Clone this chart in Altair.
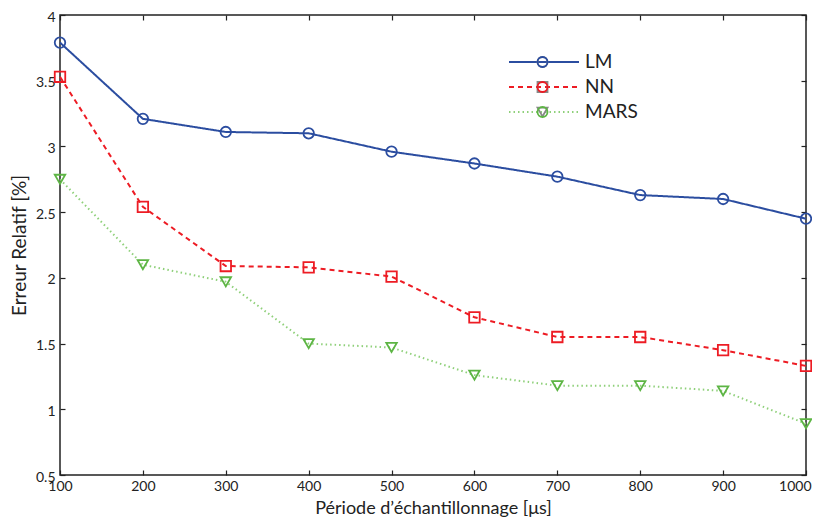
import altair as alt
import pandas as pd

periods = [100, 200, 300, 400, 500, 600, 700, 800, 900, 1000]
lm = [3.79, 3.21, 3.11, 3.10, 2.96, 2.87, 2.77, 2.63, 2.60, 2.45]
nn = [3.53, 2.54, 2.09, 2.08, 2.01, 1.70, 1.55, 1.55, 1.45, 1.33]
mars = [2.75, 2.10, 1.97, 1.50, 1.47, 1.26, 1.18, 1.18, 1.14, 0.89]
series_names = ["LM", "NN", "MARS"]
x_ticks = [100, 200, 300, 400, 500, 600, 700, 800, 900, 1000]
y_ticks = [0.5, 1, 1.5, 2, 2.5, 3, 3.5, 4]

line_colors = ["#2B4DA0", "#ED1C24", "#8FD07A"]
marker_colors = ["#2B4DA0", "#ED1C24", "#5DB544"]
dashes = [[1, 0], [5, 4], [1.5, 3]]
shapes = ["circle", "square", "triangle-down"]

rows = []
for name, vals in zip(series_names, [lm, nn, mars]):
    for p, v in zip(periods, vals):
        rows.append({"periode": p, "erreur": v, "serie": name, "serie_m": name})
df = pd.DataFrame(rows)

W, H = 746, 460
FONT = "Lato"
TXT = "#222222"

xscale = alt.Scale(domain=[100, 1000], nice=False, zero=False)
yscale = alt.Scale(domain=[0.5, 4], nice=False, zero=False)

tick_style = dict(grid=False, domain=False, labels=False, title=None,
                  tickSize=5, tickColor=TXT, tickWidth=1.2)

base = alt.Chart(df)

line_legend = alt.Legend(orient="none", legendX=448, legendY=37, title=None,
                         symbolType="stroke", symbolSize=4900,
                         symbolStrokeWidth=2, clipHeight=20, rowPadding=5,
                         padding=0, labelFont=FONT, labelFontSize=19,
                         labelColor=TXT, labelOffset=5)

last_test = "datum.value == 1000"

lines = base.mark_line(strokeWidth=2).encode(
    x=alt.X("periode:Q", scale=xscale,
            axis=alt.Axis(orient="bottom", values=x_ticks, tickSize=0, grid=False,
                          domain=False, labelPadding=4, labelFontSize=14,
                          labelColor=TXT, labelFont=FONT, format="d", labelFlush=False,
                          labelAlign={"condition": {"test": last_test, "value": "right"},
                                      "value": "center"},
                          labelOffset={"condition": {"test": last_test, "value": 5},
                                       "value": 0},
                          title="Période d’échantillonnage [μs]", titleFont=FONT,
                          titleFontSize=18, titleFontWeight="normal", titleColor=TXT,
                          titlePadding=6)),
    y=alt.Y("erreur:Q", scale=yscale,
            axis=alt.Axis(orient="left", values=y_ticks, tickSize=0, grid=False,
                          domain=False, labelPadding=5, labelFontSize=14, labelOffset=2,
                          labelColor=TXT, labelFont=FONT, format="~g", labelFlush=False,
                          title="Erreur Relatif [%]", titleFont=FONT,
                          titleFontSize=19, titleFontWeight="normal", titleColor=TXT,
                          titlePadding=6)),
    color=alt.Color("serie:N", scale=alt.Scale(domain=series_names, range=line_colors),
                    legend=line_legend),
    strokeDash=alt.StrokeDash("serie:N", scale=alt.Scale(domain=series_names, range=dashes),
                              legend=line_legend),
)

pt_legend = alt.Legend(orient="none", legendX=473, legendY=37, title=None,
                       clipHeight=20, rowPadding=5, padding=0, labelFont=FONT,
                       labelFontSize=19, labelExpr="''", symbolStrokeWidth=1.8)

points = base.mark_point(filled=False, size=110, strokeWidth=1.8, opacity=1).encode(
    x=alt.X("periode:Q", scale=xscale,
            axis=alt.Axis(orient="top", offset=-H, values=x_ticks, **tick_style)),
    y=alt.Y("erreur:Q", scale=yscale,
            axis=alt.Axis(orient="right", offset=-W, values=y_ticks, **tick_style)),
    stroke=alt.Stroke("serie_m:N", sort=series_names,
                      scale=alt.Scale(range=marker_colors), legend=pt_legend),
    shape=alt.Shape("serie_m:N", sort=series_names,
                    scale=alt.Scale(range=shapes), legend=pt_legend),
)

ghost = base.mark_point(opacity=0).encode(
    x=alt.X("periode:Q", scale=xscale,
            axis=alt.Axis(orient="bottom", offset=-H, values=x_ticks, **tick_style)),
    y=alt.Y("erreur:Q", scale=yscale,
            axis=alt.Axis(orient="left", offset=-W, values=y_ticks, **tick_style)),
)

chart = alt.layer(lines, points, ghost).resolve_axis(
    x="independent", y="independent"
).properties(
    width=W, height=H,
    autosize=alt.AutoSizeParams(type="none"),
    padding={"left": 52, "top": 7, "right": 6, "bottom": 44},
    background="white",
).configure_view(stroke=TXT, strokeWidth=1.5)

chart.save("out.html", embed_options={"renderer": "svg", "actions": False})
